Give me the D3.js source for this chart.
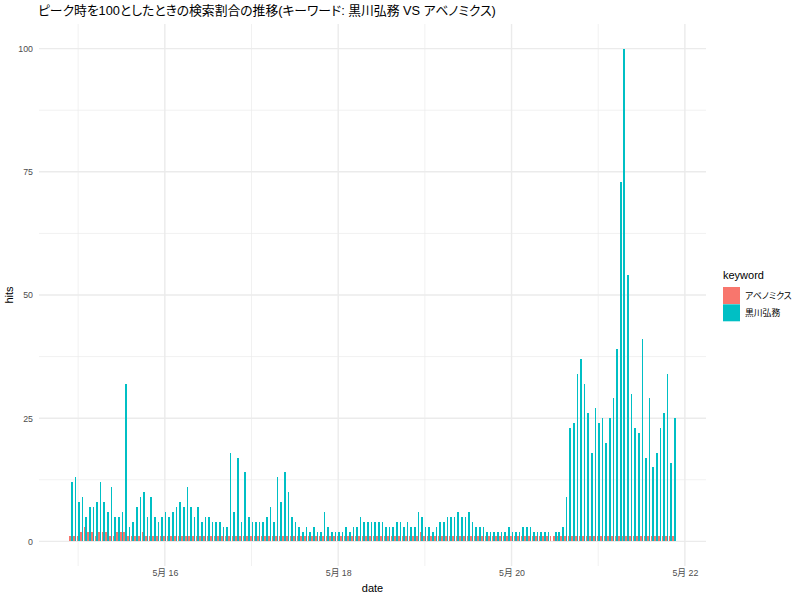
<!DOCTYPE html>
<html>
<head>
<meta charset="utf-8">
<script src="https://cdn.jsdelivr.net/npm/d3@7"></script>
<style>
  body { margin: 0; background: #fff; }
  text { font-family: "Liberation Sans", "Noto Sans CJK JP", sans-serif; font-feature-settings: "palt"; }
</style>
</head>
<body>
<div id="chart"></div>
<script>
// hourly data, first hour = 2020-05-14 22:00
var startHour = new Date(2020, 4, 14, 22);
var keywords = ["アベノミクス", "黒川弘務"];
var colors = ["#F8766D", "#00BFC4"];

var abenomicsHits = [
  1,1,1,2,3,2,2,1,2,2, 2,1,1,2,2,2,1,1,1,1, 2,1,1,1,1,1,1,1,1,1,
  1,1,1,1,1,1,1,1,1,1, 1,1,1,1,1,1,1,1,1,1, 1,1,1,1,1,1,1,1,1,1,
  1,1,1,1,1,1,1,1,1,1, 1,1,1,1,1,1,1,1,1,1, 1,1,1,1,1,1,1,1,1,1,
  1,1,1,1,1,1,1,2,1,1, 1,1,1,1,1,1,1,1,1,1, 1,1,1,1,1,1,1,1,1,1,
  1,1,1,1,1,1,1,1,1,1, 1,1,1,1,1,1,1,1,1,1, 1,1,1,1,1,1,1,1,1,1,
  1,1,1,1,1,1,1,1,1,1, 1,1,1,1,1,1,1,1
];
var kurokawaHits = [
  12,13,8,9,5,7,7,8,12,8, 6,11,5,5,6,32,3,4,7,9, 10,5,9,5,4,5,6,5,6,7,
  8,7,11,7,5,7,4,5,5,4, 4,4,3,3,18,6,17,4,14,5, 4,4,4,4,5,7,4,13,8,14,
  10,5,4,3,2,3,2,3,2,2, 6,3,2,2,2,2,3,2,3,3, 5,4,4,4,4,4,4,3,3,3,
  4,4,3,4,3,3,6,5,3,3, 2,3,4,4,5,5,5,6,5,5, 6,4,3,3,3,2,2,2,2,2,
  2,3,2,2,2,3,3,3,2,2, 2,2,2,0,2,2,3,9,23,24, 34,37,32,26,18,27,24,25,20,25,
  29,39,73,100,54,30,23,22,41,17, 29,15,18,23,26,34,16,25
];

var yTicks = [0, 25, 50, 75, 100];
var yMinor = [12.5, 37.5, 62.5, 87.5];
var xTicks = [new Date(2020, 4, 16), new Date(2020, 4, 18), new Date(2020, 4, 20), new Date(2020, 4, 22)];
var xMinor = [new Date(2020, 4, 15), new Date(2020, 4, 17), new Date(2020, 4, 19), new Date(2020, 4, 21)];

var HOUR = 3600 * 1000;
var data = abenomicsHits.map(function(d, i) {
  return { date: new Date(startHour.getTime() + i * HOUR), hits: [d, kurokawaHits[i]] };
});

var width = 800, height = 600;
var panel = { left: 39, right: 706, top: 24, bottom: 566 };

var svg = d3.select("#chart").append("svg")
    .attr("width", width)
    .attr("height", height);

// x domain: bar extent plus 5% each side, like ggplot
var lo = data[0].date.getTime() - 0.45 * HOUR,
    hi = data[data.length - 1].date.getTime() + 0.45 * HOUR,
    pad = (hi - lo) * 0.05;
var x = d3.scaleTime()
    .domain([new Date(lo - pad), new Date(hi + pad)])
    .range([panel.left, panel.right]);
var y = d3.scaleLinear()
    .domain([-5, 105])
    .range([panel.bottom, panel.top]);

// grid
var grid = svg.append("g");
grid.selectAll(".ymin").data(yMinor).enter().append("line")
    .attr("x1", panel.left).attr("x2", panel.right)
    .attr("y1", function(d) { return y(d); }).attr("y2", function(d) { return y(d); })
    .attr("stroke", "#ebebeb").attr("stroke-width", 0.7);
grid.selectAll(".xmin").data(xMinor).enter().append("line")
    .attr("y1", panel.top).attr("y2", panel.bottom)
    .attr("x1", function(d) { return x(d); }).attr("x2", function(d) { return x(d); })
    .attr("stroke", "#ebebeb").attr("stroke-width", 0.7);
grid.selectAll(".ymaj").data(yTicks).enter().append("line")
    .attr("x1", panel.left).attr("x2", panel.right)
    .attr("y1", function(d) { return y(d); }).attr("y2", function(d) { return y(d); })
    .attr("stroke", "#ebebeb").attr("stroke-width", 1.4);
grid.selectAll(".xmaj").data(xTicks).enter().append("line")
    .attr("y1", panel.top).attr("y2", panel.bottom)
    .attr("x1", function(d) { return x(d); }).attr("x2", function(d) { return x(d); })
    .attr("stroke", "#ebebeb").attr("stroke-width", 1.4);

// dodged bars
var groupW = x(new Date(startHour.getTime() + 0.9 * HOUR)) - x(startHour);
var bars = svg.append("g").attr("shape-rendering", "crispEdges");
keywords.forEach(function(k, j) {
  bars.selectAll(".b" + j).data(data).enter().append("rect")
      .attr("x", function(d) { return x(d.date) - groupW / 2 + j * groupW / 2; })
      .attr("width", groupW / 2)
      .attr("y", function(d) { return y(d.hits[j]); })
      .attr("height", function(d) { return y(0) - y(d.hits[j]); })
      .attr("fill", colors[j]);
});

// y axis labels
var yAxis = svg.append("g")
    .attr("transform", "translate(" + panel.left + ",0)")
    .call(d3.axisLeft(y).tickValues(yTicks).tickSize(0).tickPadding(6));
yAxis.select(".domain").remove();
yAxis.selectAll("text").attr("fill", "#4d4d4d").style("font-size", "8.8px");

// x axis labels
var fmt = d3.timeFormat("%-m月 %d");
var xAxis = svg.append("g")
    .attr("transform", "translate(0," + panel.bottom + ")")
    .call(d3.axisBottom(x).tickValues(xTicks).tickFormat(fmt).tickSize(0).tickPadding(4));
xAxis.select(".domain").remove();
xAxis.selectAll("text").attr("fill", "#4d4d4d").style("font-size", "8.8px");

// axis titles
svg.append("text")
    .attr("x", (panel.left + panel.right) / 2)
    .attr("y", 592)
    .attr("text-anchor", "middle")
    .style("font-size", "11px")
    .text("date");
svg.append("text")
    .attr("transform", "translate(13," + ((panel.top + panel.bottom) / 2) + ") rotate(-90)")
    .attr("text-anchor", "middle")
    .style("font-size", "11px")
    .text("hits");

// title
svg.append("text")
    .attr("x", 38)
    .attr("y", 15)
    .style("font-size", "12.8px")
    .text("ピーク時を100としたときの検索割合の推移(キーワード: 黒川弘務 VS アベノミクス)");

// legend
var legend = svg.append("g").attr("transform", "translate(723,0)");
legend.append("text")
    .attr("x", 0).attr("y", 279)
    .style("font-size", "11px")
    .text("keyword");
keywords.forEach(function(k, j) {
  legend.append("rect")
      .attr("x", 0).attr("y", 287 + j * 17.3)
      .attr("width", 17).attr("height", 17)
      .attr("fill", colors[j]);
  legend.append("text")
      .attr("x", 22).attr("y", 296 + j * 17.3)
      .attr("dy", "0.35em")
      .style("font-size", "8.8px")
      .text(k);
});
</script>
</body>
</html>
